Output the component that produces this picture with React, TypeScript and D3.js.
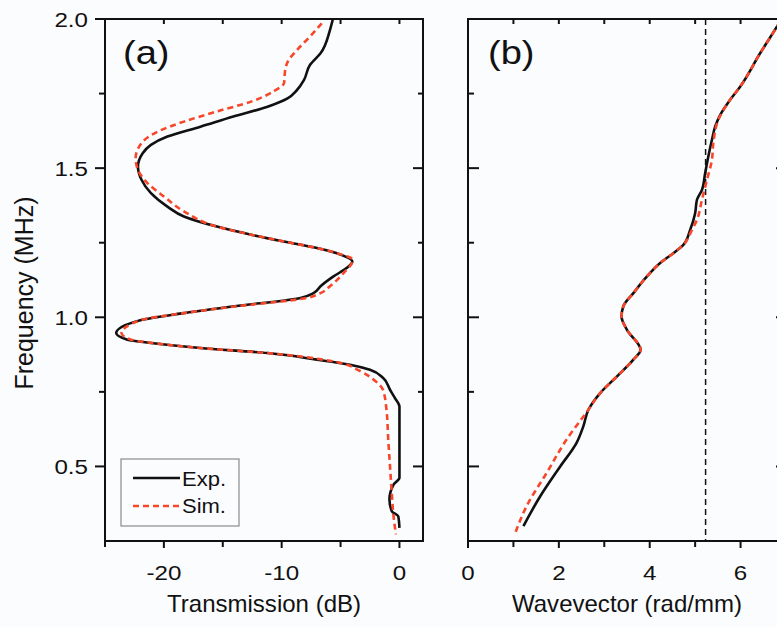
import React from 'react';
import * as d3 from 'd3';

// ---------- data ----------
// Panel (a): transmission (dB) vs frequency (MHz)
const expAFreq = [0.294, 0.333, 0.35, 0.389, 0.439, 0.462, 0.55, 0.65, 0.701, 0.729, 0.757, 0.797, 0.824, 0.841, 0.858, 0.88, 0.897, 0.914, 0.925, 0.947, 0.99, 1.013, 1.037, 1.065, 1.081, 1.104, 1.137, 1.165, 1.187, 1.21, 1.232, 1.254, 1.277, 1.304, 1.338, 1.371, 1.416, 1.461, 1.505, 1.55, 1.578, 1.606, 1.639, 1.673, 1.706, 1.734, 1.762, 1.796, 1.846, 1.885, 1.963, 2.0];
const expATrans = [0.0, -0.1, -0.65, -0.85, -0.5, 0.0, 0.0, 0.0, 0.0, -0.38, -0.8, -1.4, -2.5, -4.2, -7.0, -11.2, -16.9, -21.1, -23.1, -24.05, -22.0, -18.5, -14.0, -8.4, -7.3, -6.7, -5.6, -4.5, -4.0, -5.0, -7.0, -9.8, -12.6, -15.5, -18.3, -19.7, -21.1, -21.9, -22.2, -21.8, -21.1, -19.7, -16.9, -14.1, -11.2, -9.5, -8.7, -8.1, -7.6, -6.7, -5.9, -5.65];

const simAFreq = [0.272, 0.333, 0.411, 0.5, 0.59, 0.69, 0.757, 0.791, 0.819, 0.852, 0.88, 0.897, 0.914, 0.925, 0.947, 0.99, 1.013, 1.037, 1.065, 1.081, 1.104, 1.148, 1.193, 1.21, 1.232, 1.254, 1.277, 1.304, 1.355, 1.405, 1.45, 1.494, 1.533, 1.584, 1.623, 1.656, 1.69, 1.723, 1.757, 1.785, 1.829, 1.863, 1.896, 1.941, 1.985];
const simATrans = [-0.3, -0.5, -0.65, -0.8, -0.95, -1.1, -1.4, -2.2, -3.3, -5.6, -11.2, -16.9, -21.0, -22.8, -23.6, -22.0, -18.5, -13.8, -7.85, -6.7, -5.9, -4.75, -3.95, -4.9, -7.0, -9.8, -12.6, -15.5, -18.3, -20.0, -21.4, -22.2, -22.4, -21.9, -20.5, -18.3, -15.5, -12.6, -10.7, -9.8, -9.7, -9.4, -8.7, -7.6, -6.6];

// Panel (b): wavevector (rad/mm) vs frequency (MHz)
const expBFreq = [0.3, 0.4, 0.5, 0.579, 0.635, 0.69, 0.746, 0.802, 0.858, 0.891, 0.958, 1.003, 1.037, 1.081, 1.137, 1.182, 1.215, 1.243, 1.293, 1.349, 1.394, 1.427, 1.483, 1.539, 1.595, 1.639, 1.678, 1.729, 1.773, 1.885, 1.974, 2.05];
const expBK = [1.22, 1.59, 2.03, 2.39, 2.54, 2.65, 2.91, 3.28, 3.64, 3.8, 3.5, 3.38, 3.42, 3.64, 3.94, 4.23, 4.52, 4.74, 4.89, 5.0, 5.04, 5.15, 5.22, 5.29, 5.37, 5.44, 5.55, 5.77, 5.99, 6.43, 6.8, 7.1];

const simBFreq = [0.277, 0.367, 0.478, 0.59, 0.69, 0.746, 0.802, 0.858, 0.891, 0.958, 1.003, 1.037, 1.081, 1.137, 1.182, 1.215, 1.243, 1.293, 1.327, 1.394, 1.461, 1.528, 1.584, 1.662, 1.729, 1.773, 1.885, 1.974, 2.05];
const simBK = [1.04, 1.29, 1.73, 2.17, 2.65, 2.91, 3.28, 3.64, 3.8, 3.5, 3.38, 3.42, 3.64, 3.94, 4.23, 4.52, 4.74, 4.93, 5.04, 5.15, 5.26, 5.37, 5.4, 5.51, 5.77, 5.99, 6.43, 6.8, 7.1];

const lightLineK = 5.23;

const freqTicks = [0.5, 1.0, 1.5, 2.0];
const freqMinorTicks = [0.75, 1.25, 1.75];
const transTicks = [-20, -10, 0];
const transMinorTicks = [-25, -15, -5];
const waveTicks = [0, 2, 4, 6];
const waveMinorTicks = [1, 3, 5];

const legendLabels = ['Exp.', 'Sim.'];

// ---------- layout ----------
const W = 777;
const H = 627;
const top = 19;
const bottom = 541;
const aLeft = 105;
const aRight = 423;
const bLeft = 468;
const bRight = 786;

const BLACK = '#111111';
const RED = '#f8462a';
const FONT = 'Liberation Sans, Arial, sans-serif';

type TxtProps = {
  x: number;
  y: number;
  sx?: number;
  anchor?: 'start' | 'middle' | 'end';
  size: number;
  rotate?: number;
  children: React.ReactNode;
};

function Txt({ x, y, sx = 1, anchor = 'start', size, rotate = 0, children }: TxtProps) {
  return (
    <text
      transform={`translate(${x},${y}) rotate(${rotate}) scale(${sx},1)`}
      textAnchor={anchor}
      fontFamily={FONT}
      fontSize={size}
      fill="#111"
    >
      {children}
    </text>
  );
}

export default function App() {
  const y = d3.scaleLinear().domain([0.25, 2.0]).range([bottom, top]);
  const xa = d3.scaleLinear().domain([-25, 2]).range([aLeft, aRight]);
  const xb = d3.scaleLinear().domain([0, 7]).range([bLeft, bRight]);

  const lineA = d3
    .line<[number, number]>()
    .x((d) => xa(d[1]))
    .y((d) => y(d[0]))
    .curve(d3.curveMonotoneY);
  const lineB = d3
    .line<[number, number]>()
    .x((d) => xb(d[1]))
    .y((d) => y(d[0]))
    .curve(d3.curveMonotoneY);

  // sorted by descending frequency so that pixel y increases along the path
  const zip = (a: number[], b: number[]) =>
    a.map((v, i) => [v, b[i]] as [number, number]).sort((p, q) => q[0] - p[0]);

  const sw = 2;
  const tickFont = 21;
  const tickSx = 1.15;

  const frame = (l: number, r: number, key: string) => (
    <rect key={key} x={l} y={top} width={r - l} height={bottom - top} fill="none" stroke={BLACK} strokeWidth={sw} />
  );

  return (
    <svg width={W} height={H} style={{ position: 'absolute', left: 0, top: 0 }}>
      <rect x={0} y={0} width={W} height={H} fill="#fbfcfe" />
      <defs>
        <clipPath id="clipA">
          <rect x={aLeft} y={top} width={aRight - aLeft} height={bottom - top} />
        </clipPath>
        <clipPath id="clipB">
          <rect x={bLeft} y={top} width={bRight - bLeft} height={bottom - top} />
        </clipPath>
      </defs>

      {/* ----- Panel (a) ----- */}
      <g clipPath="url(#clipA)">
        <path d={lineA(zip(expAFreq, expATrans)) || ''} fill="none" stroke={BLACK} strokeWidth={2.6} />
        <path d={lineA(zip(simAFreq, simATrans)) || ''} fill="none" stroke={RED} strokeWidth={2.6} strokeDasharray="6,4" />
      </g>
      {frame(aLeft, aRight, 'fa')}
      {freqTicks.map((t) => (
        <line key={'al' + t} x1={aLeft - 10} x2={aLeft} y1={y(t)} y2={y(t)} stroke={BLACK} strokeWidth={sw} />
      ))}
      {freqMinorTicks.map((t) => (
        <line key={'alm' + t} x1={aLeft - 6} x2={aLeft} y1={y(t)} y2={y(t)} stroke={BLACK} strokeWidth={sw} />
      ))}
      {freqTicks.map((t) => (
        <line key={'ar' + t} x1={aRight - 10} x2={aRight} y1={y(t)} y2={y(t)} stroke={BLACK} strokeWidth={sw} />
      ))}
      {freqMinorTicks.map((t) => (
        <line key={'arm' + t} x1={aRight - 5} x2={aRight} y1={y(t)} y2={y(t)} stroke={BLACK} strokeWidth={sw} />
      ))}
      {transTicks.map((t) => (
        <line key={'ab' + t} x1={xa(t)} x2={xa(t)} y1={bottom} y2={bottom + 7} stroke={BLACK} strokeWidth={sw} />
      ))}
      {transMinorTicks.map((t) => (
        <line key={'abm' + t} x1={xa(t)} x2={xa(t)} y1={bottom} y2={bottom + 6} stroke={BLACK} strokeWidth={sw} />
      ))}
      {[...transTicks, ...transMinorTicks].map((t) => (
        <line key={'at' + t} x1={xa(t)} x2={xa(t)} y1={top} y2={top + 5} stroke={BLACK} strokeWidth={sw} />
      ))}
      {freqTicks.map((t) => (
        <Txt key={'alt' + t} x={88} y={y(t) + 7.5} anchor="end" size={tickFont} sx={tickSx}>
          {d3.format('.1f')(t)}
        </Txt>
      ))}
      {transTicks.map((t) => (
        <Txt key={'abt' + t} x={xa(t)} y={580} anchor="middle" size={tickFont} sx={tickSx}>
          {String(t)}
        </Txt>
      ))}
      <Txt x={123} y={64} size={34} sx={1.12}>(a)</Txt>

      {/* legend */}
      <rect x={121} y={459} width={118} height={67} fill="#fbfcfe" stroke="#8a8a8a" strokeWidth={1.2} />
      <line x1={133} x2={180} y1={478} y2={478} stroke={BLACK} strokeWidth={2.6} />
      <line x1={133} x2={180} y1={506} y2={506} stroke={RED} strokeWidth={2.6} strokeDasharray="6,4" />
      <Txt x={182} y={485.5} size={20} sx={1.1}>{legendLabels[0]}</Txt>
      <Txt x={182} y={513} size={20} sx={1.1}>{legendLabels[1]}</Txt>

      {/* ----- Panel (b) ----- */}
      <g clipPath="url(#clipB)">
        <line x1={xb(lightLineK)} x2={xb(lightLineK)} y1={top} y2={bottom} stroke={BLACK} strokeWidth={1.5} strokeDasharray="6,4" />
        <path d={lineB(zip(expBFreq, expBK)) || ''} fill="none" stroke={BLACK} strokeWidth={2.6} />
        <path d={lineB(zip(simBFreq, simBK)) || ''} fill="none" stroke={RED} strokeWidth={2.6} strokeDasharray="6,4" />
      </g>
      {frame(bLeft, bRight, 'fb')}
      {freqTicks.map((t) => (
        <line key={'bl' + t} x1={bLeft} x2={bLeft + 11} y1={y(t)} y2={y(t)} stroke={BLACK} strokeWidth={sw} />
      ))}
      {freqMinorTicks.map((t) => (
        <line key={'blm' + t} x1={bLeft} x2={bLeft + 6} y1={y(t)} y2={y(t)} stroke={BLACK} strokeWidth={sw} />
      ))}
      {freqTicks.map((t) => (
        <line key={'br' + t} x1={bRight - 10} x2={bRight} y1={y(t)} y2={y(t)} stroke={BLACK} strokeWidth={sw} />
      ))}
      {freqMinorTicks.map((t) => (
        <line key={'brm' + t} x1={bRight - 5} x2={bRight} y1={y(t)} y2={y(t)} stroke={BLACK} strokeWidth={sw} />
      ))}
      {waveTicks.map((t) => (
        <line key={'bb' + t} x1={xb(t)} x2={xb(t)} y1={bottom} y2={bottom + 7} stroke={BLACK} strokeWidth={sw} />
      ))}
      {waveMinorTicks.map((t) => (
        <line key={'bbm' + t} x1={xb(t)} x2={xb(t)} y1={bottom} y2={bottom + 6} stroke={BLACK} strokeWidth={sw} />
      ))}
      {[...waveTicks, ...waveMinorTicks].map((t) => (
        <line key={'bt' + t} x1={xb(t)} x2={xb(t)} y1={top} y2={top + 5} stroke={BLACK} strokeWidth={sw} />
      ))}
      {waveTicks.map((t) => (
        <Txt key={'bbt' + t} x={xb(t)} y={580} anchor="middle" size={tickFont} sx={tickSx}>
          {String(t)}
        </Txt>
      ))}
      <Txt x={488} y={64} size={34} sx={1.12}>(b)</Txt>

      {/* axis titles */}
      <Txt x={33} y={293} anchor="middle" size={25} rotate={-90}>Frequency (MHz)</Txt>
      <Txt x={264} y={612} anchor="middle" size={23} sx={1.045}>Transmission (dB)</Txt>
      <Txt x={627} y={612} anchor="middle" size={23} sx={1.045}>Wavevector (rad/mm)</Txt>
    </svg>
  );
}
